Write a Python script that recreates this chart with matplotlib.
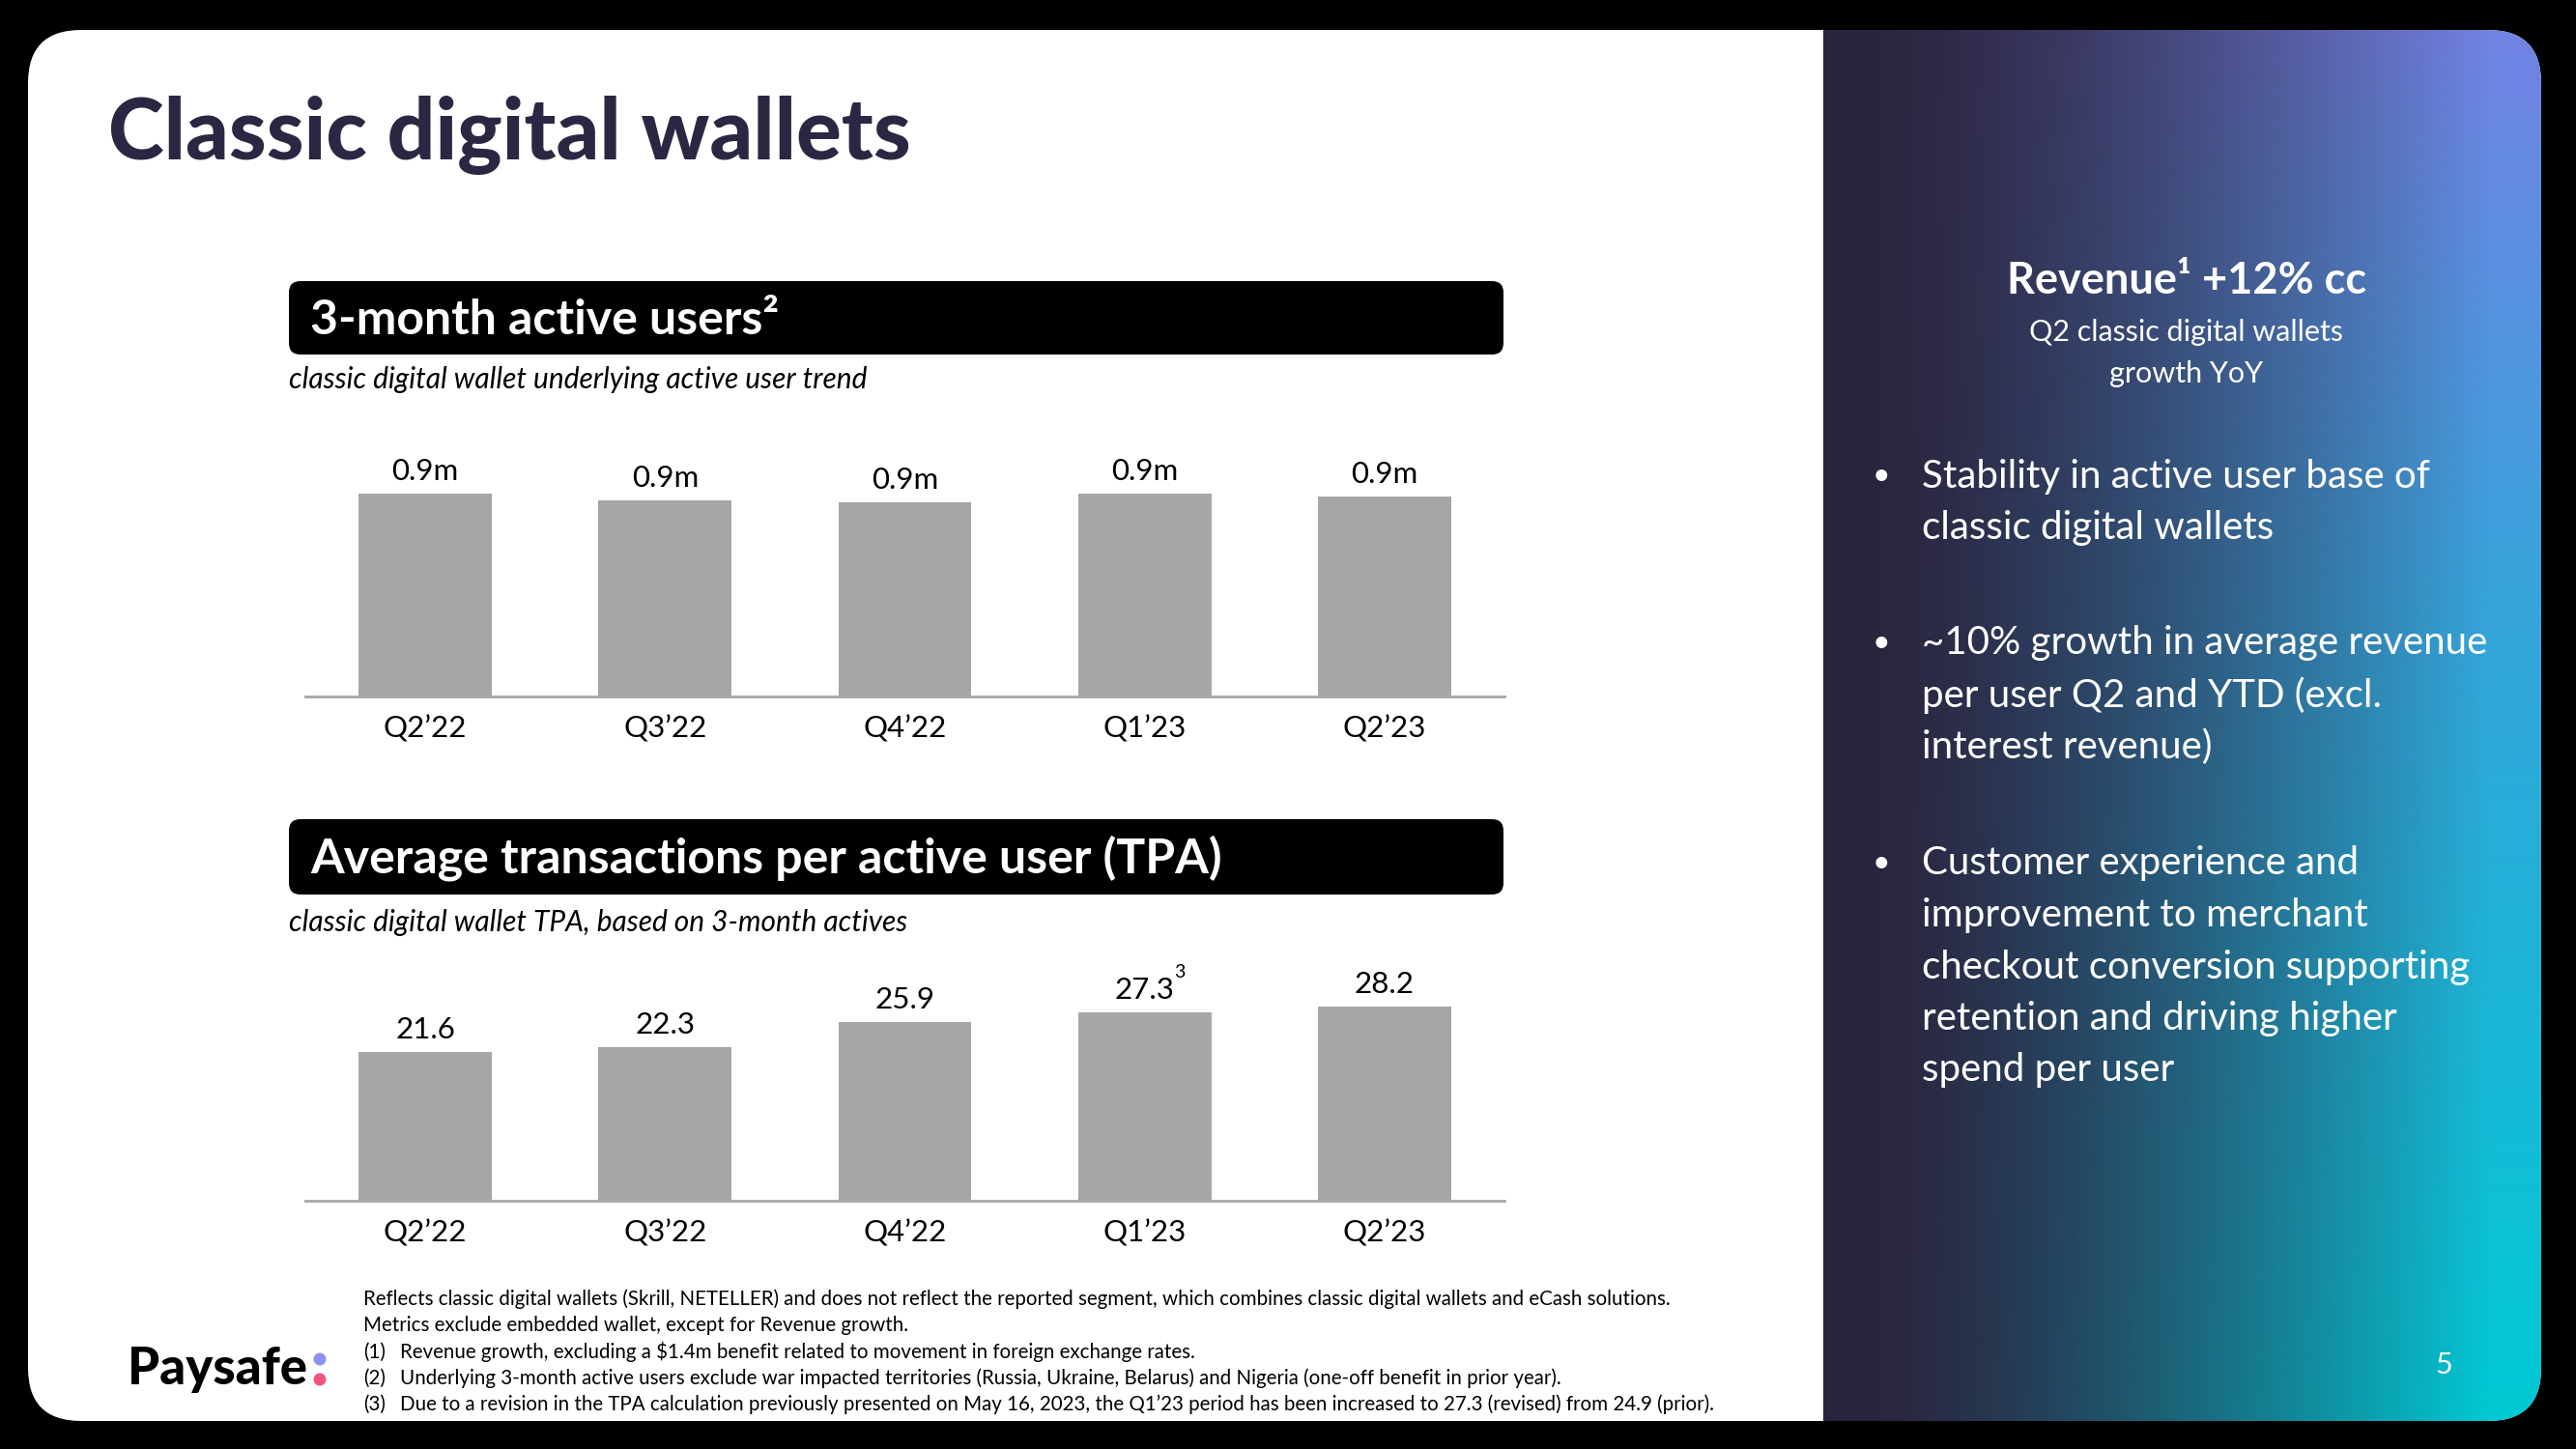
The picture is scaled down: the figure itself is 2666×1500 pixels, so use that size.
import numpy as np
import matplotlib.pyplot as plt
from matplotlib.patches import FancyBboxPatch, Circle

plt.rcParams['font.family'] = ['Lato', 'DejaVu Sans']

# chart data
quarters = ['Q2’22', 'Q3’22', 'Q4’22', 'Q1’23', 'Q2’23']
active_users = [0.93, 0.90, 0.89, 0.93, 0.917]   # millions (labels rounded)
active_labels = ['0.9m', '0.9m', '0.9m', '0.9m', '0.9m']
tpa = [21.6, 22.3, 25.9, 27.3, 28.2]
tpa_labels = ['21.6', '22.3', '25.9', '27.3', '28.2']
tpa_notes = ['', '', '', '3', '']

bullets = [
    ['Stability in active user base of', 'classic digital wallets'],
    ['~10% growth in average revenue', 'per user Q2 and YTD (excl.', 'interest revenue)'],
    ['Customer experience and', 'improvement to merchant', 'checkout conversion supporting',
     'retention and driving higher', 'spend per user'],
]
footnotes = [
    ('', 'Reflects classic digital wallets (Skrill, NETELLER) and does not reflect the reported segment, which combines classic digital wallets and eCash solutions.'),
    ('', 'Metrics exclude embedded wallet, except for Revenue growth.'),
    ('(1)', 'Revenue growth, excluding a $1.4m benefit related to movement in foreign exchange rates.'),
    ('(2)', 'Underlying 3-month active users exclude war impacted territories (Russia, Ukraine, Belarus) and Nigeria (one-off benefit in prior year).'),
    ('(3)', 'Due to a revision in the TPA calculation previously presented on May 16, 2023, the Q1’23 period has been increased to 27.3 (revised) from 24.9 (prior).'),
]

BAR = '#A6A6A6'
TITLE = '#2D2643'

fig = plt.figure(figsize=(26.66, 15), dpi=100, facecolor='black')

# background in pixel coordinates
bg = fig.add_axes([0, 0, 1, 1])
bg.set_axis_off()
slide = FancyBboxPatch((29, 31), 2601, 1440, boxstyle='round,pad=0,rounding_size=55',
                       fc='white', ec='none', zorder=0)
bg.add_patch(slide)

# gradient side panel
W, H = 743, 1440
u = np.linspace(0, 1, W)[None, :]
v = np.linspace(0, 1, H)[:, None]
dark = np.array([0.17, 0.145, 0.25])
c_top = np.array([0.45, 0.51, 0.89])
c_mid = np.array([0.22, 0.64, 0.86])
c_bot = np.array([0.0, 0.79, 0.83])
right = np.where(v < 0.4, c_top + (c_mid - c_top) * (v / 0.4),
                 c_mid + (c_bot - c_mid) * ((v - 0.4) / 0.6))
t = np.clip((u - 0.08) / 0.85, 0, 1) ** 1.3
img = dark[None, None, :] * (1 - t[..., None]) + right[:, None, :] * t[..., None]
im = bg.imshow(img, extent=(1887, 2630, 1471, 31), origin='upper', aspect='auto', zorder=1)
im.set_clip_path(slide)
bg.set_xlim(0, 2666)
bg.set_ylim(1500, 0)

# title
bg.text(112, 165, 'Classic digital wallets', fontsize=63, fontweight='black', color=TITLE,
        va='baseline', zorder=3)

# section headers
for y0, h, txt, base in [(291, 76, '3-month active users²', 346),
                         (848, 78, 'Average transactions per active user (TPA)', 904)]:
    bg.add_patch(FancyBboxPatch((299, y0), 1257, h, boxstyle='round,pad=0,rounding_size=12',
                                fc='black', ec='none', zorder=2))
    bg.text(321, base, txt, fontsize=36, fontweight='bold', color='white', va='baseline', zorder=3)

bg.text(299, 393, 'classic digital wallet underlying active user trend', fontsize=21.5,
        style='italic', va='center', zorder=3)
bg.text(299, 955, 'classic digital wallet TPA, based on 3-month actives', fontsize=21.5,
        style='italic', va='center', zorder=3)


def bar_panel(rect, values, labels, ymax, notes=None):
    ax = fig.add_axes(rect)
    x = np.arange(len(values))
    ax.bar(x, values, width=0.556, color=BAR)
    ax.set_xlim(-0.5, len(values) - 0.5)
    ax.set_ylim(0, ymax)
    for s in ['top', 'right', 'left']:
        ax.spines[s].set_visible(False)
    ax.spines['bottom'].set_color(BAR)
    ax.spines['bottom'].set_linewidth(2)
    ax.set_yticks([])
    ax.set_xticks(x, quarters)
    ax.tick_params(axis='x', length=0, pad=14, labelsize=22.5)
    ax.patch.set_alpha(0)
    for i, (val, lab) in enumerate(zip(values, labels)):
        ax.annotate(lab, (i, val), xytext=(0, 16.5), textcoords='offset points',
                    ha='center', va='center', fontsize=22.5)
        if notes and notes[i]:
            ax.annotate(notes[i], (i, val), xytext=(26, 30), textcoords='offset points',
                        ha='center', va='center', fontsize=14)
    return ax


bar_panel([316 / 2666, 1 - 721 / 1500, 1241 / 2666, 251 / 1500], active_users, active_labels, 1.1116)
bar_panel([316 / 2666, 1 - 1243 / 1500, 1241 / 2666, 243 / 1500], tpa, tpa_labels, 34.08, tpa_notes)

# right panel text
bg.text(2263, 291, 'Revenue¹ +12% cc', fontsize=32.5, fontweight='bold', color='white',
        ha='center', va='center', zorder=3)
bg.text(2263, 344, 'Q2 classic digital wallets', fontsize=22, color='white', ha='center',
        va='center', zorder=3)
bg.text(2263, 387, 'growth YoY', fontsize=22, color='white', ha='center', va='center', zorder=3)

for y0, lines in zip([493, 666, 894], bullets):
    bg.text(1947, y0, '•', fontsize=23, color='white', ha='center', va='center', zorder=3)
    for k, line in enumerate(lines):
        bg.text(1989, y0 + k * 53.5, line, fontsize=29, color='white', va='center', zorder=3)

bg.text(2529, 1413, '5', fontsize=22, color='white', ha='center', va='center', zorder=3)

# footnotes
for k, (num, line) in enumerate(footnotes):
    y = 1345 + k * 27.2
    if num:
        bg.text(376, y, num, fontsize=14.8, va='center', zorder=3)
        bg.text(414, y, line, fontsize=14.8, va='center', zorder=3)
    else:
        bg.text(376, y, line, fontsize=14.8, va='center', zorder=3)

# logo
bg.text(132, 1433, 'Paysafe', fontsize=38, fontweight='black', color='black', va='baseline', zorder=3)
bg.add_patch(Circle((331, 1407), 6.5, fc='#8C93EE', ec='none', zorder=3))
bg.add_patch(Circle((331, 1428), 6.5, fc='#F2567C', ec='none', zorder=3))

fig.savefig('out.png', dpi=100, facecolor='black')
